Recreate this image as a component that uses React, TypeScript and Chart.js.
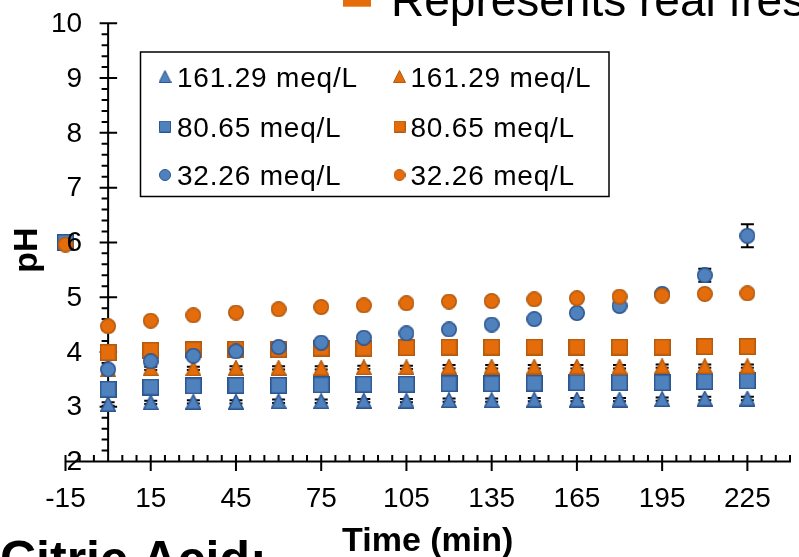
import React, { useEffect, useRef } from 'react';
import { Chart, registerables } from 'chart.js';

Chart.register(...registerables);

// Sampling times (min)
const times = [0, 15, 30, 45, 60, 75, 90, 105, 120, 135, 150, 165, 180, 195, 210, 225];
const xTickValues = [-15, 15, 45, 75, 105, 135, 165, 195, 225];

// pH readings, blue series
const phBlue161 = [3.05, 3.08, 3.09, 3.09, 3.10, 3.10, 3.11, 3.11, 3.12, 3.12, 3.13, 3.13, 3.13, 3.14, 3.15, 3.15];
const phBlue80 = [3.32, 3.36, 3.38, 3.39, 3.39, 3.40, 3.41, 3.41, 3.42, 3.42, 3.43, 3.44, 3.44, 3.44, 3.46, 3.47];
const phBlue32 = [3.68, 3.83, 3.93, 4.01, 4.09, 4.17, 4.26, 4.34, 4.41, 4.50, 4.60, 4.71, 4.84, 5.06, 5.40, 6.12];

// pH readings, orange series
const phOrange161 = [3.68, 3.70, 3.70, 3.71, 3.71, 3.71, 3.72, 3.72, 3.73, 3.73, 3.73, 3.73, 3.73, 3.74, 3.74, 3.74];
const phOrange80 = [3.99, 4.03, 4.04, 4.05, 4.05, 4.07, 4.07, 4.08, 4.09, 4.09, 4.09, 4.09, 4.09, 4.09, 4.10, 4.10];
const phOrange32 = [4.47, 4.57, 4.67, 4.72, 4.78, 4.82, 4.85, 4.89, 4.92, 4.93, 4.96, 4.98, 5.01, 5.03, 5.06, 5.07];

// Standard deviations
const sdBlue161 = [0.03, 0.03, 0.03, 0.03, 0.03, 0.03, 0.03, 0.03, 0.03, 0.03, 0.03, 0.03, 0.03, 0.03, 0.03, 0.03];
const sdOrange161 = [0.03, 0.03, 0.03, 0.03, 0.03, 0.03, 0.03, 0.03, 0.03, 0.03, 0.03, 0.03, 0.03, 0.03, 0.03, 0.03];
const sdBlue32 = [0.02, 0.02, 0.02, 0.02, 0.02, 0.02, 0.02, 0.02, 0.02, 0.02, 0.02, 0.02, 0.02, 0.02, 0.12, 0.21];

// Fresh juice reference points
const freshTime = -15;
const freshBlue80 = 6.0;
const freshOrange32 = 5.96;

const seriesLabels = ['161.29 meq/L', '80.65 meq/L', '32.26 meq/L'];

const FONT = "'Liberation Sans', Arial, Helvetica, sans-serif";
const BLUE = '#4F81BD';
const BLUE_EDGE = '#2C5590';
const ORANGE = '#E46C0A';
const ORANGE_EDGE = '#B25A10';

type Shape = 'triangle' | 'square' | 'circle';

function makeMarker(shape: Shape, size: number, fill: string, edge: string, lw: number) {
  const c = document.createElement('canvas');
  c.width = size;
  c.height = size;
  const g = c.getContext('2d') as CanvasRenderingContext2D;
  const h = lw / 2;
  g.fillStyle = fill;
  g.strokeStyle = edge;
  g.lineWidth = lw;
  g.beginPath();
  if (shape === 'circle') {
    g.arc(size / 2, size / 2, size / 2 - h, 0, Math.PI * 2);
  } else if (shape === 'square') {
    g.rect(h, h, size - lw, size - lw);
  } else {
    g.moveTo(size / 2, h);
    g.lineTo(size - h, size - h);
    g.lineTo(h, size - h);
    g.closePath();
  }
  g.fill();
  g.stroke();
  return c;
}

// Axis lines with crossing major ticks and minor ticks, plus error bars
const axesPlugin = {
  id: 'excelAxes',
  beforeDatasetsDraw(chart: any) {
    const { ctx, scales } = chart;
    const xs = scales.x;
    const ys = scales.y;
    const x0 = xs.getPixelForValue(0);
    const y0 = ys.getPixelForValue(2);
    ctx.save();
    ctx.strokeStyle = '#000';
    ctx.lineWidth = 2;
    ctx.beginPath();
    ctx.moveTo(x0, ys.getPixelForValue(10) - 1);
    ctx.lineTo(x0, y0);
    ctx.moveTo(xs.getPixelForValue(-15) - 1, y0);
    ctx.lineTo(xs.getPixelForValue(240) + 1, y0);
    for (let v = -15; v <= 240; v += 5) {
      const px = xs.getPixelForValue(v);
      const major = (v + 15) % 30 === 0;
      ctx.moveTo(px, y0 - 6.5);
      ctx.lineTo(px, major ? y0 + 9.5 : y0);
    }
    for (let k = 0; k <= 40; k++) {
      const py = ys.getPixelForValue(2 + k * 0.2);
      if (k % 5 === 0) {
        ctx.moveTo(x0 - 8.5, py);
        ctx.lineTo(x0 + 9, py);
      } else {
        ctx.moveTo(x0 - 6.5, py);
        ctx.lineTo(x0, py);
      }
    }
    ctx.stroke();

    chart.data.datasets.forEach((ds: any, i: number) => {
      if (!ds.errorBars) return;
      const meta = chart.getDatasetMeta(i);
      meta.data.forEach((pt: any, j: number) => {
        const e = ds.errorBars[j];
        if (!e) return;
        const v = ds.data[j].y;
        const yt = ys.getPixelForValue(v + e);
        const yb = ys.getPixelForValue(v - e);
        const cw = 6.5;
        ctx.beginPath();
        ctx.moveTo(pt.x, yt);
        ctx.lineTo(pt.x, yb);
        ctx.moveTo(pt.x - cw, yt);
        ctx.lineTo(pt.x + cw, yt);
        ctx.moveTo(pt.x - cw, yb);
        ctx.lineTo(pt.x + cw, yb);
        ctx.stroke();
      });
    });
    ctx.restore();
  },
  // value labels of the pH axis, sitting left of the axis at time 0
  afterDatasetsDraw(chart: any) {
    const { ctx, scales } = chart;
    const xs = scales.x;
    const ys = scales.y;
    const x0 = xs.getPixelForValue(0);
    ctx.save();
    ctx.fillStyle = '#000';
    ctx.font = `28px ${FONT}`;
    ctx.textAlign = 'right';
    ctx.textBaseline = 'middle';
    ys.ticks.forEach((t: any) => {
      const label = t.label != null ? String(t.label) : String(t.value);
      ctx.fillText(label, x0 - 26, ys.getPixelForValue(t.value) + 1);
    });
    ctx.restore();
  },
};

function makeTextPlugin(legendMarkers: HTMLCanvasElement[][]) {
  return {
    id: 'textLayer',
    afterDraw(chart: any) {
      const { ctx, chartArea } = chart;
      ctx.save();
      ctx.fillStyle = '#000';

      // axis titles
      ctx.font = `bold 34px ${FONT}`;
      ctx.textAlign = 'center';
      ctx.textBaseline = 'alphabetic';
      ctx.fillText('Time (min)', (chartArea.left + chartArea.right) / 2, 551);
      ctx.save();
      ctx.translate(37, 250);
      ctx.rotate(-Math.PI / 2);
      ctx.fillText('pH', 0, 0);
      ctx.restore();

      // series legend box
      ctx.lineWidth = 1.5;
      ctx.strokeStyle = '#000';
      ctx.strokeRect(140.5, 52, 468.5, 144.5);
      ctx.font = `28px ${FONT}`;
      ctx.textAlign = 'left';
      (ctx as any).letterSpacing = '0.8px';
      const baselines = [86.5, 136.5, 185];
      const markerX = [165, 399.5];
      const textX = [177, 410.5];
      for (let col = 0; col < 2; col++) {
        for (let row = 0; row < 3; row++) {
          const m = legendMarkers[col][row];
          const cy = baselines[row] - 10;
          ctx.drawImage(m, markerX[col] - m.width / 2, cy - m.height / 2);
          ctx.fillText(seriesLabels[row], textX[col], baselines[row]);
        }
      }
      (ctx as any).letterSpacing = '0px';

      // note legend at the top
      ctx.fillStyle = ORANGE;
      ctx.fillRect(343, -14, 28, 20.7);
      ctx.fillStyle = '#000';
      ctx.font = `46px ${FONT}`;
      ctx.fillText('Represents real fresh', 391, 16);

      // panel caption
      ctx.font = `bold 50px ${FONT}`;
      ctx.fillText('Citric Acid:', 0, 576);
      ctx.restore();
    },
  };
}

export default function App() {
  const canvasRef = useRef<HTMLCanvasElement | null>(null);

  useEffect(() => {
    const canvas = canvasRef.current;
    if (!canvas) return;

    const blueTri = makeMarker('triangle', 16, BLUE, BLUE_EDGE, 1.5);
    const blueSq = makeMarker('square', 17, BLUE, BLUE_EDGE, 1.5);
    const blueCirc = makeMarker('circle', 16, BLUE, BLUE_EDGE, 1.5);
    const orangeTri = makeMarker('triangle', 16, ORANGE, ORANGE_EDGE, 1.5);
    const orangeSq = makeMarker('square', 17, ORANGE, ORANGE_EDGE, 1.5);
    const orangeCirc = makeMarker('circle', 16, ORANGE, ORANGE_EDGE, 1.5);

    const legendMarkers = [
      [
        makeMarker('triangle', 13, BLUE, BLUE_EDGE, 1),
        makeMarker('square', 12, BLUE, BLUE_EDGE, 1),
        makeMarker('circle', 12, BLUE, BLUE_EDGE, 1),
      ],
      [
        makeMarker('triangle', 13, ORANGE, ORANGE_EDGE, 1),
        makeMarker('square', 12, ORANGE, ORANGE_EDGE, 1),
        makeMarker('circle', 12, ORANGE, ORANGE_EDGE, 1),
      ],
    ];

    const series = (label: string, ys: number[], marker: HTMLCanvasElement, order: number, err?: number[]) => ({
      label,
      data: times.map((t, i) => ({ x: t, y: ys[i] })),
      pointStyle: marker,
      pointRadius: 8,
      pointHoverRadius: 8,
      showLine: false,
      clip: false as any,
      order,
      errorBars: err,
    });

    const chart = new Chart(canvas, {
      type: 'scatter',
      data: {
        datasets: [
          series('161.29 meq/L', phBlue161, blueTri, 5, sdBlue161),
          series('80.65 meq/L', phBlue80, blueSq, 4),
          series('161.29 meq/L', phOrange161, orangeTri, 3, sdOrange161),
          series('80.65 meq/L', phOrange80, orangeSq, 2),
          series('32.26 meq/L', phBlue32, blueCirc, 1, sdBlue32),
          series('32.26 meq/L', phOrange32, orangeCirc, 0),
          {
            label: 'fresh',
            data: [{ x: freshTime, y: freshBlue80 }],
            pointStyle: blueSq,
            pointRadius: 8,
            showLine: false,
            clip: false as any,
            order: 7,
          },
          {
            label: 'fresh',
            data: [{ x: freshTime, y: freshOrange32 }],
            pointStyle: orangeCirc,
            pointRadius: 8,
            showLine: false,
            clip: false as any,
            order: 6,
          },
        ] as any,
      },
      options: {
        responsive: false,
        animation: false,
        devicePixelRatio: 1,
        events: [],
        layout: { padding: { left: 65.5, right: 1, top: 23.3, bottom: 95.5 } },
        plugins: {
          legend: { display: false },
          tooltip: { enabled: false },
        },
        scales: {
          x: {
            type: 'linear',
            min: -15,
            max: 240,
            position: { y: 2 } as any,
            grid: { display: false, drawTicks: true, tickLength: 21 },
            border: { display: false },
            ticks: {
              padding: 0,
              color: '#000',
              font: { family: FONT, size: 28 },
              maxRotation: 0,
              autoSkip: false,
            },
            afterBuildTicks: (scale: any) => {
              scale.ticks = xTickValues.map((v) => ({ value: v }));
            },
          },
          y: {
            type: 'linear',
            min: 2,
            max: 10,
            position: { x: 0 } as any,
            grid: { display: false, drawTicks: false },
            border: { display: false },
            ticks: {
              display: false,
              stepSize: 1,
              padding: 0,
            },
          },
        },
      },
      plugins: [axesPlugin, makeTextPlugin(legendMarkers)],
    });

    return () => chart.destroy();
  }, []);

  return (
    <div style={{ position: 'absolute', left: 0, top: 0, width: 799, height: 557, overflow: 'hidden', background: '#fff' }}>
      <canvas ref={canvasRef} width={799} height={557} style={{ display: 'block' }} />
    </div>
  );
}
